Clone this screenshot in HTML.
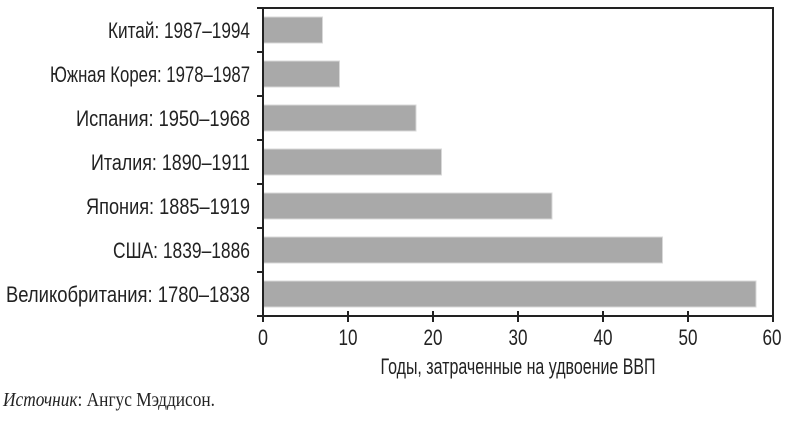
<!DOCTYPE html>
<html><head><meta charset="utf-8"><style>
body{margin:0;width:790px;height:419px;background:#fff;overflow:hidden}
</style></head><body>
<svg width="790" height="419" xmlns="http://www.w3.org/2000/svg">
<g fill="#a9a9a9" stroke="#d8d8d8" stroke-width="1">
<rect x="263" y="17" width="59.5" height="26"/>
<rect x="263" y="61" width="76.5" height="26"/>
<rect x="263" y="105" width="153" height="26"/>
<rect x="263" y="149" width="178.5" height="26"/>
<rect x="263" y="193" width="289" height="26"/>
<rect x="263" y="237" width="399.5" height="26"/>
<rect x="263" y="281" width="493" height="26"/>
</g>
<g stroke="#222" stroke-width="2" fill="none">
<path d="M263 8H773V316H263Z"/>
<path d="M257 8H263M257 52H263M257 96H263M257 140H263M257 184H263M257 228H263M257 272H263M257 316H263"/>
<path d="M263 311V322M348 311V322M433 311V322M518 311V322M603 311V322M688 311V322M773 311V322"/>
</g>
<g font-family="'Liberation Sans Narrow','Liberation Sans',sans-serif" font-size="22" fill="#222" text-anchor="end">
<text x="250" y="38" textLength="142" lengthAdjust="spacingAndGlyphs">Китай: 1987–1994</text>
<text x="250" y="82" textLength="200" lengthAdjust="spacingAndGlyphs">Южная Корея: 1978–1987</text>
<text x="250" y="126" textLength="174" lengthAdjust="spacingAndGlyphs">Испания: 1950–1968</text>
<text x="250" y="170" textLength="159" lengthAdjust="spacingAndGlyphs">Италия: 1890–1911</text>
<text x="250" y="214" textLength="164" lengthAdjust="spacingAndGlyphs">Япония: 1885–1919</text>
<text x="250" y="258" textLength="137" lengthAdjust="spacingAndGlyphs">США: 1839–1886</text>
<text x="250" y="302" textLength="244" lengthAdjust="spacingAndGlyphs">Великобритания: 1780–1838</text>
</g>
<g font-family="'Liberation Sans Narrow','Liberation Sans',sans-serif" font-size="22" fill="#222" text-anchor="middle">
<text x="263" y="345" textLength="10" lengthAdjust="spacingAndGlyphs">0</text><text x="348" y="345" textLength="19" lengthAdjust="spacingAndGlyphs">10</text><text x="433" y="345" textLength="19" lengthAdjust="spacingAndGlyphs">20</text><text x="518" y="345" textLength="19" lengthAdjust="spacingAndGlyphs">30</text><text x="603" y="345" textLength="19" lengthAdjust="spacingAndGlyphs">40</text><text x="688" y="345" textLength="19" lengthAdjust="spacingAndGlyphs">50</text><text x="772" y="345" textLength="19" lengthAdjust="spacingAndGlyphs">60</text>
<text x="518" y="374" textLength="275" lengthAdjust="spacingAndGlyphs">Годы, затраченные на удвоение ВВП</text>
</g>
<text x="3" y="406" font-family="'Liberation Serif',serif" font-size="20" fill="#222" textLength="212" lengthAdjust="spacingAndGlyphs"><tspan font-style="italic">Источник</tspan>: Ангус Мэддисон.</text>
</svg>
</body></html>
